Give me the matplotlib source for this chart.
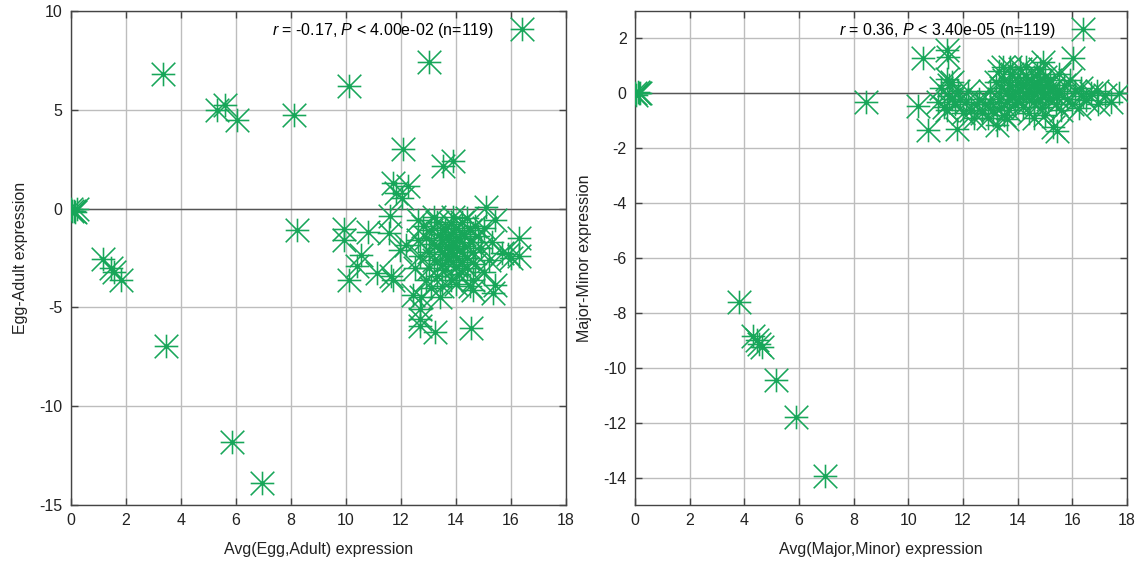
import matplotlib
matplotlib.use("Agg")
import matplotlib.pyplot as plt
from matplotlib.path import Path

plt.rcParams['font.family'] = ['Liberation Sans', 'DejaVu Sans']
plt.rcParams['mathtext.fontset'] = 'custom'
plt.rcParams['mathtext.rm'] = 'Liberation Sans'
plt.rcParams['mathtext.it'] = 'Liberation Sans:italic'
plt.rcParams['axes.unicode_minus'] = False

# ---- Egg vs Adult ----
egg_avg = [
    0.0, 0.1, 0.2, 0.15, 0.05,
    1.17, 1.45, 1.55, 1.8,
    3.35, 5.3, 5.6, 6.05, 8.1, 10.1, 13.0, 12.06, 13.54, 13.9,
    11.72, 12.26, 11.8, 12.05, 15.1, 11.6, 9.93, 10.8, 11.55, 12.6,
    15.4, 8.2, 3.45, 5.85, 6.95, 9.93, 10.53, 10.4, 10.1, 11.14,
    11.64, 11.72, 12.18, 11.96, 12.45, 12.73, 12.7, 12.7, 12.7, 13.24,
    14.53, 13.42, 14.5, 15.42, 15.36, 15.66, 16.3, 15.9, 16.3, 16.0,
    12.8, 12.9, 13.0, 13.0, 13.1, 13.2, 13.2, 13.3, 13.3, 13.4,
    13.4, 13.5, 13.5, 13.6, 13.6, 13.6, 13.7, 13.7, 13.7, 13.8,
    13.8, 13.8, 13.9, 13.9, 13.9, 14.0, 14.0, 14.0, 14.1, 14.1,
    14.2, 14.2, 14.2, 14.3, 14.3, 14.4, 14.4, 14.5, 14.5, 14.6,
    14.6, 14.7, 14.7, 14.8, 14.9, 15.0, 15.0, 12.9, 13.1, 13.5,
    14.0, 14.6, 12.7, 12.6, 12.5, 13.2, 14.4, 13.9, 15.2, 15.3,
]
egg_diff = [
    0.0, -0.1, 0.0, -0.15, -0.1,
    -2.55, -3.0, -3.2, -3.6,
    6.8, 5.0, 5.25, 4.5, 4.75, 6.2, 7.4, 3.0, 2.14, 2.4,
    1.3, 1.13, 0.8, 0.54, 0.1, -0.35, -1.03, -1.2, -1.23, -0.6,
    -0.6, -1.1, -6.95, -11.8, -13.9, -1.57, -2.33, -2.92, -3.6, -3.26,
    -3.43, -3.6, -1.82, -2.07, -4.35, -4.47, -5.1, -5.6, -5.96, -6.26,
    -6.04, -4.47, -3.93, -3.85, -4.27, -2.24, -1.5, -2.3, -2.4, -2.5,
    -0.9, -1.5, -2.2, -3.0, -1.1, -1.8, -2.6, -3.4, -0.7, -1.3,
    -2.0, -2.8, -1.6, -1.0, -2.3, -3.1, -1.9, -1.4, -2.6, -0.8,
    -2.1, -3.6, -1.2, -1.7, -2.4, -2.9, -1.0, -2.0, -1.5, -3.3,
    -2.2, -0.7, -2.7, -1.3, -1.9, -2.5, -3.0, -1.1, -1.7, -2.2,
    -3.6, -0.9, -2.8, -1.4, -2.0, -3.2, -1.0, -3.6, -4.0, -3.9,
    -3.8, -4.1, -2.4, -1.6, -3.0, -0.4, -0.5, -0.4, -2.6, -1.7,
]

# ---- Major vs Minor ----
major_avg = [
    0.0, 0.1, 0.2, 0.05, 0.15,
    3.8, 4.32, 4.45, 4.55, 4.65, 5.16, 5.9, 6.95, 8.45,
    10.55, 11.4, 11.46, 11.4, 10.37, 10.73, 11.77, 13.72, 13.48, 16.04,
    13.23, 13.6, 14.94, 15.43, 15.3, 15.44, 17.2, 17.7, 16.95, 16.5,
    16.25, 11.5, 11.6, 11.3, 11.8,
    11.1, 11.2, 11.4, 11.5, 11.6, 11.7, 11.9, 12.0, 12.1, 12.2,
    12.3, 12.4, 12.5, 12.6, 12.7,
    12.8, 12.9, 13.0, 13.0, 13.1, 13.2, 13.3, 13.3, 13.4, 13.4,
    13.5, 13.5, 13.6, 13.6, 13.7, 13.7, 13.8, 13.8, 13.9, 13.9,
    14.0, 14.0, 14.1, 14.1, 14.2, 14.2, 14.3, 14.3, 14.4, 14.4,
    14.5, 14.5, 14.6, 14.6, 14.7, 14.7, 14.8, 14.8, 14.9, 14.9,
    15.0, 15.0, 15.0, 15.1, 15.1, 15.2, 15.2, 14.3, 14.6, 14.8,
    15.3, 15.4, 15.5, 15.5, 15.6, 15.7, 15.8, 15.9, 16.0, 16.1,
    16.3, 16.4, 16.7, 16.9, 17.4,
]
major_diff = [
    0.0, 0.05, 0.0, -0.05, 0.02,
    -7.6, -8.83, -9.0, -9.15, -9.25, -10.45, -11.8, -13.95, -0.3,
    1.3, 1.57, 1.32, 0.54, -0.47, -1.35, -1.29, 0.96, 0.96, 1.27,
    -1.17, -0.92, 1.14, -0.13, -1.23, -1.39, -0.07, 0.0, -0.4, -0.25,
    -0.55, 0.3, -0.2, -0.5, 0.1,
    -0.3, 0.2, -0.6, -0.1, 0.4, -0.4, -0.2, -0.7, -0.3, 0.1,
    -0.6, -0.9, -0.4, -0.2, -0.7,
    -0.4, -0.9, -0.3, 0.1, -0.6, 0.4, -0.2, 0.8, -0.5, 0.2,
    -0.8, 0.5, 0.0, -0.3, 0.3, -0.6, 0.7, -0.1, 0.1, -0.4,
    0.4, -0.2, 0.9, 0.1, -0.5, 0.3, 0.6, -0.1, 0.2, -0.7,
    0.5, 0.0, 0.3, -0.3, 0.7, 0.1, -0.2, 0.4, 0.2, -0.5,
    0.6, 0.0, -0.8, 0.3, -0.2, 0.5, 0.1, 0.95, -0.9, 0.9,
    0.2, -0.4, 0.7, 0.0, -0.6, 0.3, -0.2, 0.5, -0.4, 0.1,
    0.2, -0.1, 0.0, 0.1, -0.3,
]

left_label = r"$r$ = -0.17, $P$ < 4.00e-02 (n=119)"
right_label = r"$r$ = 0.36, $P$ < 3.40e-05 (n=119)"

GREEN = '#17a659'

# eight-armed asterisk: a plus sign overlaid with the diagonals of a square
star = Path(
    [(-1, 0), (1, 0), (0, -1), (0, 1), (-1, -1), (1, 1), (-1, 1), (1, -1)],
    [Path.MOVETO, Path.LINETO] * 4,
)

fig = plt.figure(figsize=(11.41, 5.64), dpi=100)
axL = fig.add_axes([71 / 1141, 1 - 505 / 564, 495 / 1141, 494 / 564])
axR = fig.add_axes([635 / 1141, 1 - 505 / 564, 492 / 1141, 494 / 564])


def style(ax, xs, ys, label, ylim, yticks, xlabel, ylabel):
    ax.set_xlim(0, 18)
    ax.set_ylim(*ylim)
    ax.set_xticks(range(0, 19, 2))
    ax.set_yticks(yticks)
    ax.grid(True, color='#bdbdbd', linewidth=1.0)
    ax.set_axisbelow(True)
    ax.axhline(0, color='#555555', linewidth=1.0, zorder=1)
    for s in ax.spines.values():
        s.set_color('#444444')
        s.set_linewidth(1.0)
    ax.tick_params(direction='in', length=5, width=1.0, color='#444444',
                   top=True, right=True, labelsize=11.5, labelcolor='#222222',
                   pad=6)
    ax.plot(xs, ys, linestyle='none', marker=star, markersize=17,
            markeredgewidth=1.15, markeredgecolor=GREEN, markerfacecolor='none',
            color=GREEN, label=label, zorder=3)
    ax.set_xlabel(xlabel, fontsize=11.5, color='#222222', labelpad=10)
    ax.set_ylabel(ylabel, fontsize=11.5, color='#222222', labelpad=8)
    ax.legend(loc='upper right', bbox_to_anchor=(0.955, 1.0), frameon=False,
              markerfirst=False, fontsize=11.5, handlelength=1.5,
              handletextpad=1.0, borderaxespad=0.2, numpoints=1)


style(axL, egg_avg, egg_diff, left_label, (-15, 10), range(-15, 11, 5),
      'Avg(Egg,Adult) expression', 'Egg-Adult expression')
style(axR, major_avg, major_diff, right_label, (-15, 3), range(-14, 3, 2),
      'Avg(Major,Minor) expression', 'Major-Minor expression')

fig.savefig('out.png', dpi=100)
